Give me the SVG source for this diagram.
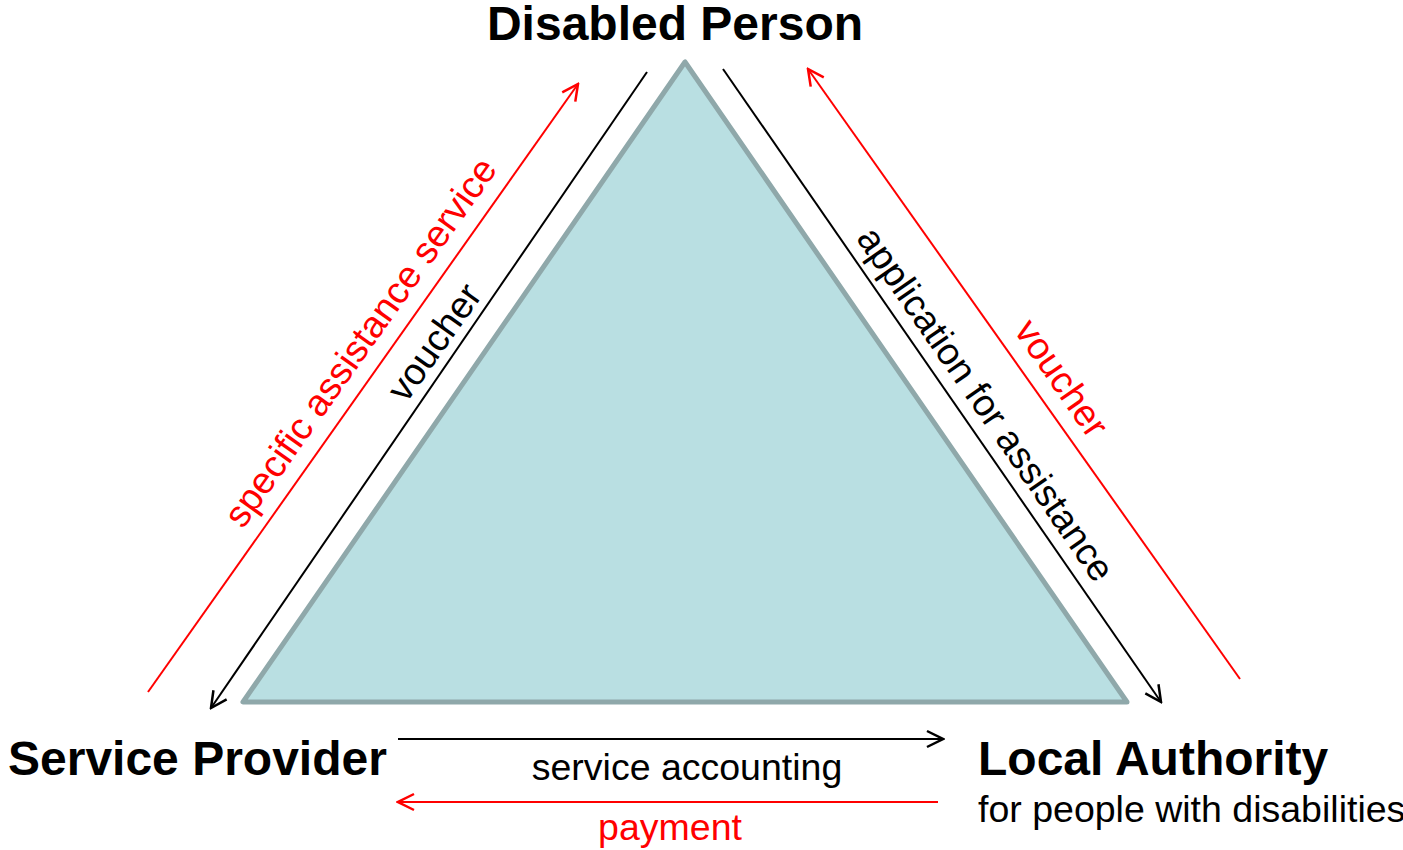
<svg xmlns="http://www.w3.org/2000/svg" width="1403" height="850" viewBox="0 0 1403 850">
<defs>
<style>
text{font-family:"Liberation Sans",Arial,sans-serif}
.title{font-size:48px;font-weight:bold;fill:#000}
.lbl{font-size:37.5px}
.blk{fill:#000}
.red{fill:#FF0000}
.lb{stroke:#000;stroke-width:2;fill:none}
.lr{stroke:#FF0000;stroke-width:2;fill:none}
</style>
<marker id="ab" viewBox="0 0 20 20" refX="18" refY="10" markerWidth="20" markerHeight="20" markerUnits="userSpaceOnUse" orient="auto">
<path d="M2,2 L18,10 L2,18" fill="none" stroke="#000" stroke-width="2.5"/>
</marker>
<marker id="ar" viewBox="0 0 20 20" refX="18" refY="10" markerWidth="20" markerHeight="20" markerUnits="userSpaceOnUse" orient="auto">
<path d="M2,2 L18,10 L2,18" fill="none" stroke="#FF0000" stroke-width="2.5"/>
</marker>
</defs>
<rect width="1403" height="850" fill="#fff"/>
<g id="triangle">
<polygon points="685,62 243,702 1127,702" fill="#B9DFE2" stroke="#8FA8AA" stroke-width="5" stroke-linejoin="round"/>
</g>
<g id="connectors">
<line class="lb" x1="647" y1="72" x2="211" y2="708" marker-end="url(#ab)"/>
<line class="lr" x1="148" y1="692" x2="578" y2="84" marker-end="url(#ar)"/>
<line class="lb" x1="723" y1="69" x2="1161" y2="702" marker-end="url(#ab)"/>
<line class="lr" x1="1240" y1="679" x2="808" y2="69" marker-end="url(#ar)"/>
<line class="lb" x1="398" y1="739" x2="943" y2="739" marker-end="url(#ab)"/>
<line class="lr" x1="938" y1="802" x2="398" y2="802" marker-end="url(#ar)"/>
<text class="lbl red" text-anchor="middle" transform="translate(360,342) rotate(-54.7)" dy="13">specific assistance service</text>
<text class="lbl blk" text-anchor="middle" transform="translate(434,342) rotate(-54.7)" dy="13">voucher</text>
<text class="lbl blk" text-anchor="middle" transform="translate(986,404) rotate(55.3)" dy="13">application for assistance</text>
<text class="lbl red" text-anchor="middle" transform="translate(1062,378) rotate(55.3)" dy="13">voucher</text>
<text class="lbl blk" x="687" y="780" text-anchor="middle">service accounting</text>
<text class="lbl red" x="670" y="840" text-anchor="middle">payment</text>
</g>
<g id="disabled-person">
<text class="title" x="675" y="40" text-anchor="middle">Disabled Person</text>
</g>
<g id="service-provider">
<text class="title" x="8" y="775">Service Provider</text>
</g>
<g id="local-authority">
<text class="title" x="978" y="775">Local Authority</text>
<text class="lbl blk" x="978" y="822">for people with disabilities</text>
</g>
</svg>
